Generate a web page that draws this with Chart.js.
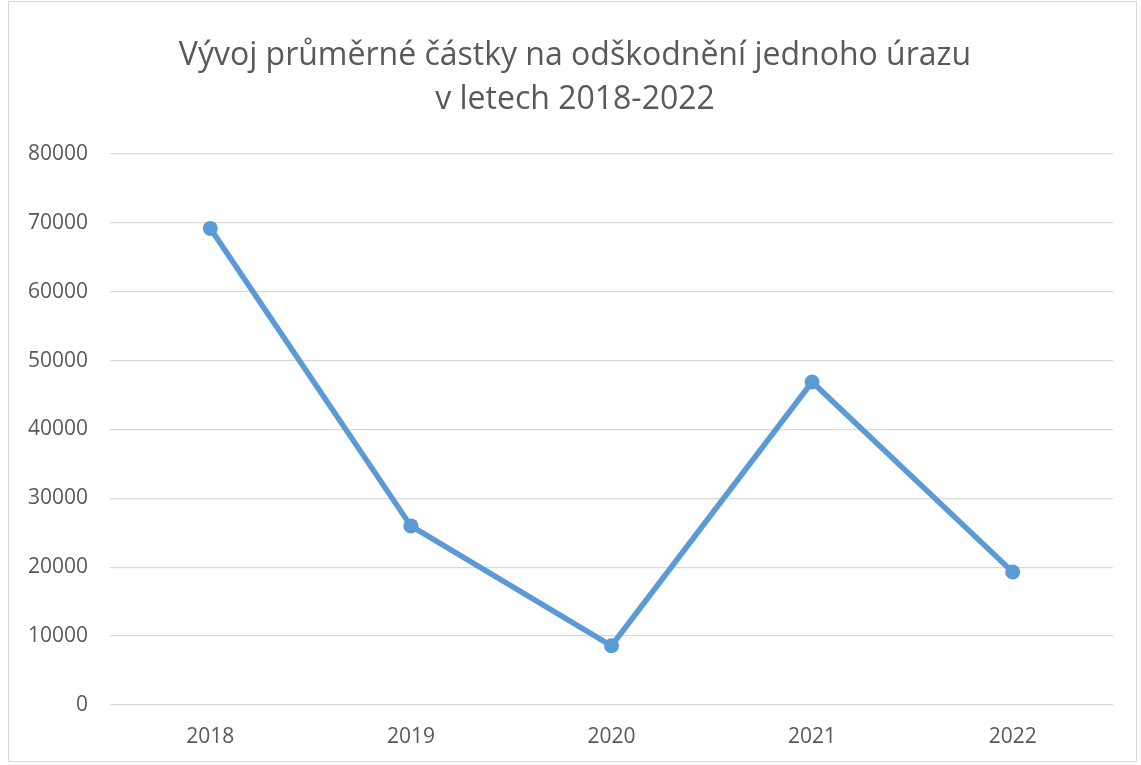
<!DOCTYPE html>
<html>
<head>
<meta charset="utf-8">
<script src="https://cdn.jsdelivr.net/npm/chart.js@4"></script>
<style>
  html, body { margin: 0; padding: 0; background: #fff; }
  #wrap { position: relative; width: 1141px; height: 765px; }
  #frame { position: absolute; left: 8px; top: 1px; width: 1129px; height: 761px; border: 1px solid #d9d9d9; box-sizing: border-box; }
  #title {
    position: absolute; left: 8px; top: 31px; width: 1134px;
    text-align: center; color: #595959;
    font: 32px/44px "Open Sans", "Noto Sans", sans-serif;
    z-index: 2;
  }
  canvas { position: absolute; left: 0; top: 0; }
</style>
</head>
<body>
<div id="wrap">
  <div id="frame"></div>
  <div id="title"></div>
  <canvas id="lineChart" width="1141" height="765"></canvas>
</div>
<script>
// data
const years = ['2018', '2019', '2020', '2021', '2022'];
const avgClaim = [69200, 26000, 8600, 46900, 19300];
const yTicks = [0, 10000, 20000, 30000, 40000, 50000, 60000, 70000, 80000];
const titleLines = ['Vývoj průměrné částky na odškodnění jednoho úrazu', 'v letech 2018-2022'];

const textColor = '#595959';
const font = '"Open Sans", "Noto Sans", sans-serif';

// title as page text, centred over the chart frame
document.getElementById('title').innerHTML = titleLines.join('<br>');

const ctx = document.getElementById('lineChart').getContext('2d');
const lineChart = new Chart(ctx, {
    type: 'line',
    data: {
        labels: years,
        datasets: [{
            data: avgClaim,
            borderColor: '#5b9bd5',
            backgroundColor: '#5b9bd5',
            borderWidth: 5.5,
            pointRadius: 7.5,
            pointBorderWidth: 0,
            pointBackgroundColor: '#5b9bd5',
            tension: 0,
            fill: false
        }]
    },
    options: {
        responsive: false,
        animation: false,
        layout: { padding: { top: 154, right: 28, bottom: 0, left: 0 } },
        plugins: {
            legend: { display: false },
            tooltip: { enabled: false },
            title: { display: false }
        },
        scales: {
            x: {
                offset: true,
                afterFit: axis => { axis.height = 60; },
                grid: { display: false, drawTicks: false },
                border: { display: false },
                ticks: { color: textColor, font: { family: font, size: 21 }, padding: 19, maxRotation: 0 }
            },
            y: {
                min: 0,
                max: 80000,
                afterBuildTicks: axis => { axis.ticks = yTicks.map(v => ({ value: v })); },
                afterFit: axis => { axis.width = 110; },
                grid: { color: '#d9d9d9', lineWidth: 1.3, drawTicks: false },
                border: { display: false },
                ticks: {
                    color: textColor,
                    font: { family: font, size: 21 },
                    padding: 22,
                    callback: v => String(v)
                }
            }
        }
    }
});
</script>
</body>
</html>
